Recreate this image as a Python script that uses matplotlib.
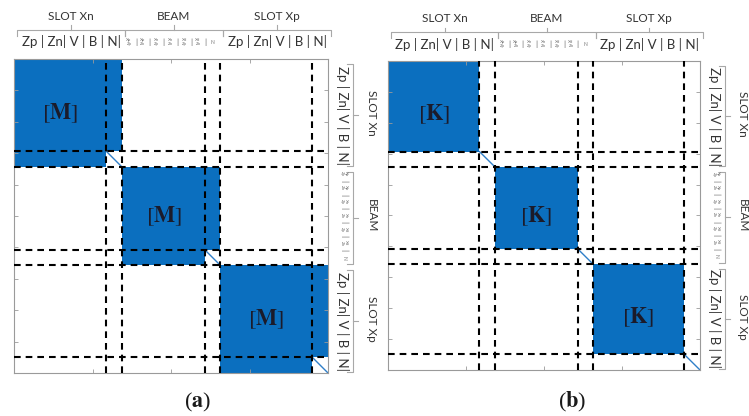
import numpy as np
import matplotlib.pyplot as plt
from matplotlib.patches import Rectangle

plt.rcParams['mathtext.fontset'] = 'stix'

# Matrix layout: groups, dense DOFs and "N" DOFs (diagonal only)
groups = ['SLOT Xn', 'BEAM', 'SLOT Xp']
dense_dofs = [92, 83, 92]
n_dofs = [16, 15, 16]
slot_labels = 'Zp | Zn| V | B | N|'
beam_top = ['Xp', 'Xp', 'Xn', 'Xn', 'Xd', 'Xd']
beam_bot = ['Zp', 'Zn', 'Zp', 'Zn', 'Zp', 'Zn']
panels = ['a', 'b']
matrix_names = ['M', 'K']

blue = '#0b6fbf'
txt_col = '#333333'
br_col = '#a8a8a8'

sizes = np.array(dense_dofs) + np.array(n_dofs)
starts = np.concatenate([[0], np.cumsum(sizes)[:-1]])
total = sizes.sum()

fig = plt.figure(figsize=(7.49, 4.16), dpi=100)

# axes boxes in pixels: left, top, width, height
boxes = [(14, 59, 314, 314), (388, 61, 312, 309)]


def bracket_h(ax, x0, x1, y):
    ax.plot([x0, x0, x1, x1], [y + 6, y, y, y + 6], color=br_col, lw=0.8, clip_on=False)
    xm = (x0 + x1) / 2
    ax.plot([xm, xm], [y, y - 5], color=br_col, lw=0.8, clip_on=False)


def bracket_v(ax, y0, y1, x):
    ax.plot([x - 6, x, x, x - 6], [y0, y0, y1, y1], color=br_col, lw=0.8, clip_on=False)
    ym = (y0 + y1) / 2
    ax.plot([x, x + 5], [ym, ym], color=br_col, lw=0.8, clip_on=False)


for k, (box, letter, mname) in enumerate(zip(boxes, panels, matrix_names)):
    l, t, w, h = box
    ax = fig.add_axes([l / 749, 1 - (t + h) / 416, w / 749, h / 416])
    ax.set_xlim(0, total)
    ax.set_ylim(total, 0)

    for s, d, n in zip(starts, dense_dofs, n_dofs):
        if mname == 'M':
            ax.add_patch(Rectangle((s, s), d + n, d, color=blue, lw=0, zorder=1))
            ax.add_patch(Rectangle((s, s + d), d, n, color=blue, lw=0, zorder=1))
        else:
            ax.add_patch(Rectangle((s, s), d, d, color=blue, lw=0, zorder=1))
        ax.plot([s + d, s + d + n], [s + d, s + d + n], color='#2f7fc8', lw=1.0, zorder=2,
                clip_on=False)
        ax.text(s + d / 2, s + d / 2 + 8, r'$[\mathbf{%s}]$' % mname, fontsize=16,
                ha='center', va='center', color='#1b1b2a', zorder=4)

    bounds = []
    for s, d, n in zip(starts, dense_dofs, n_dofs):
        bounds += [s + d, s + d + n]
    for b in bounds[:-1]:
        ax.axvline(b, color='black', lw=1.5, ls=(0, (3.2, 2.4)), zorder=3)
        ax.axhline(b, color='black', lw=1.5, ls=(0, (3.2, 2.4)), zorder=3)

    ax.set_xticks(np.linspace(0, total, 5))
    ax.set_yticks(np.linspace(0, total, 11))
    ax.tick_params(direction='in', length=3, color='#9a9a9a', labelleft=False,
                   labelbottom=False, top=True, right=True, width=0.6)
    for sp in ax.spines.values():
        sp.set_color('#9a9a9a')
        sp.set_linewidth(0.8)

    # top and right labels
    for g, s, d, n in zip(groups, starts, dense_dofs, n_dofs):
        e = s + d + n
        bracket_h(ax, s + 3, e + 3, -29)
        bracket_v(ax, s + 5, e - 1, 339)
        ax.text((s + e) / 2 + 3, -43, g, fontsize=8.5, family='Lato', color=txt_col,
                ha='center', va='center', clip_on=False)
        ax.text(357, (s + e) / 2, g, fontsize=8.5, family='Lato', color=txt_col,
                ha='center', va='center', rotation=270, clip_on=False)
        if g == 'BEAM':
            step = d / len(beam_top)
            for i, (a, b) in enumerate(zip(beam_top, beam_bot)):
                xc = s + step * (i + 0.5)
                ax.text(xc, -17, a + '\n' + b, fontsize=3.2, family='Lato', color='#707070',
                        ha='center', va='center', linespacing=0.9, clip_on=False)
                ax.text(xc + step / 2, -17, '|', fontsize=6, family='Lato', color='#707070',
                        ha='center', va='center', clip_on=False)
                ax.text(330, xc, a + '\n' + b, fontsize=3.2, family='Lato', color='#707070',
                        ha='center', va='center', linespacing=0.9, rotation=270, clip_on=False)
                ax.text(330, xc + step / 2, '|', fontsize=6, family='Lato', color='#707070',
                        ha='center', va='center', rotation=270, clip_on=False)
            ax.text(s + d + n / 2, -17, 'N', fontsize=3.5, family='Lato', color='#707070',
                    ha='center', va='center', clip_on=False)
            ax.text(330, s + d + n / 2, 'N', fontsize=3.5, family='Lato', color='#707070',
                    ha='center', va='center', rotation=270, clip_on=False)
        else:
            ax.text((s + e) / 2 + 3, -17, slot_labels, fontsize=9.5, family='Lato',
                    color=txt_col, ha='center', va='center', clip_on=False)
            ax.text(329, (s + e) / 2 + 2, slot_labels, fontsize=9.5, family='Lato',
                    color=txt_col, ha='center', va='center', rotation=270, clip_on=False)

    fig.text((l + w / 2 + 27) / 749 if k == 0 else (l + w / 2 + 28) / 749, 1 - 402 / 416,
             r'($\mathbf{%s}$)' % letter, fontsize=16, family='Liberation Serif',
             ha='center', va='center', color='#1a1a1a')

fig.savefig('out.png', dpi=100)
